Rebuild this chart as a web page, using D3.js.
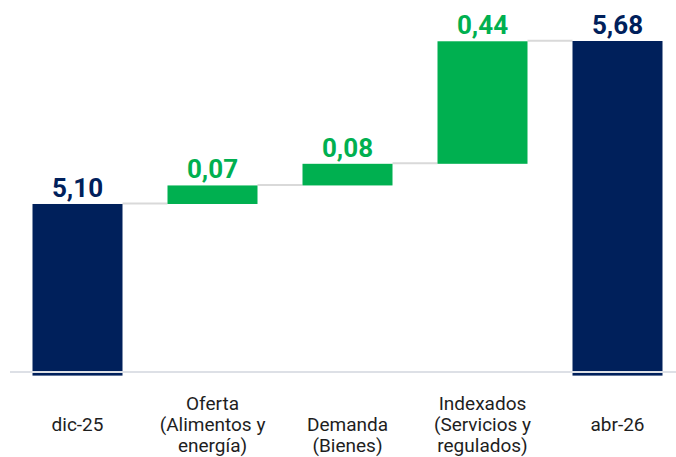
<!DOCTYPE html>
<html>
<head>
<meta charset="utf-8">
<script src="https://cdn.jsdelivr.net/npm/d3@7"></script>
<style>
    html, body { margin: 0; padding: 0; background: #ffffff; }
    svg { display: block; font-family: Roboto, "Noto Sans", sans-serif; }
</style>
</head>
<body>
<svg id="chart" width="676" height="457"></svg>
<script>
// categories, split into label lines
var categories = ["dic-25", "Oferta", "Demanda", "Indexados", "abr-26"];
var categoryLines = [
    ["dic-25"],
    ["Oferta", "(Alimentos y", "energía)"],
    ["Demanda", "(Bienes)"],
    ["Indexados", "(Servicios y", "regulados)"],
    ["abr-26"]
];
// "total" bars start from the axis, "delta" bars float on the running sum
var kinds = ["total", "delta", "delta", "delta", "total"];
var values = [5.10, 0.066, 0.077, 0.436, 5.68];

var navy = "#00205b",
    green = "#00b050",
    gridGray = "#d9d9d9";

var svg = d3.select("#chart");

var x = d3.scaleBand()
        .domain(categories)
        .range([10, 685])
        .paddingInner(1/3)
        .paddingOuter(1/6);

var y = d3.scaleLinear()
        .domain([4.5, 5.68])
        .range([372.6, 41]);

var fmt = function(v) { return d3.format(".2f")(v).replace(".", ","); };

// running sum -> start/end for every bar
var running = 0;
var data = categories.map(function(c, i) {
    var start, end;
    if (kinds[i] === "total") {
        start = y.domain()[0];
        end = values[i];
        running = values[i];
    } else {
        start = running;
        end = running + values[i];
        running = end;
    }
    return { name: c, kind: kinds[i], value: values[i],
             start: start, end: end, lines: categoryLines[i] };
});

// connectors between consecutive bar tops
var links = data.slice(0, -1).map(function(d, i) {
    return { x1: x(d.name) + x.bandwidth(), x2: x(data[i + 1].name), level: d.end };
});

svg.append("g").attr("class", "links")
    .selectAll("line")
    .data(links)
    .enter().append("line")
    .attr("x1", function(d) { return d.x1; })
    .attr("x2", function(d) { return d.x2; })
    .attr("y1", function(d) { return y(d.level) - 0.5; })
    .attr("y2", function(d) { return y(d.level) - 0.5; })
    .attr("stroke", gridGray)
    .attr("stroke-width", 2);

svg.append("g").attr("class", "bars")
    .selectAll("rect")
    .data(data)
    .enter().append("rect")
    .attr("x", function(d) { return x(d.name); })
    .attr("width", x.bandwidth())
    .attr("y", function(d) { return y(d.end); })
    .attr("height", function(d) {
        var bottom = d.kind === "total" ? y(d.start) + 3 : y(d.start);
        return bottom - y(d.end);
    })
    .attr("fill", function(d) { return d.kind === "total" ? navy : green; });

// baseline drawn over the bars
svg.append("line")
    .attr("x1", 10)
    .attr("x2", 676)
    .attr("y1", 372)
    .attr("y2", 372)
    .attr("stroke", "#dde0e6")
    .attr("stroke-width", 2);

// value labels
svg.append("g").attr("class", "values")
    .selectAll("text")
    .data(data)
    .enter().append("text")
    .attr("x", function(d) { return x(d.name) + x.bandwidth() / 2; })
    .attr("y", function(d) { return y(d.end) - 7; })
    .attr("text-anchor", "middle")
    .style("font-size", "26px")
    .style("font-weight", "bold")
    .style("fill", function(d) { return d.kind === "total" ? navy : green; })
    .text(function(d) { return fmt(d.value); });

// category labels
var catLabels = svg.append("g").attr("class", "categories")
    .selectAll("text")
    .data(data)
    .enter().append("text")
    .attr("text-anchor", "middle")
    .style("font-size", "19px")
    .style("fill", "#1e1e1e");

catLabels.selectAll("tspan")
    .data(function(d) {
        var n = d.lines.length, mid = Math.floor((n - 1) / 2);
        return d.lines.map(function(l, i) {
            return { text: l, cx: x(d.name) + x.bandwidth() / 2, dy: (i - mid) * 21 };
        });
    })
    .enter().append("tspan")
    .attr("x", function(d) { return d.cx; })
    .attr("y", function(d) { return 431 + d.dy; })
    .text(function(d) { return d.text; });
</script>
</body>
</html>
